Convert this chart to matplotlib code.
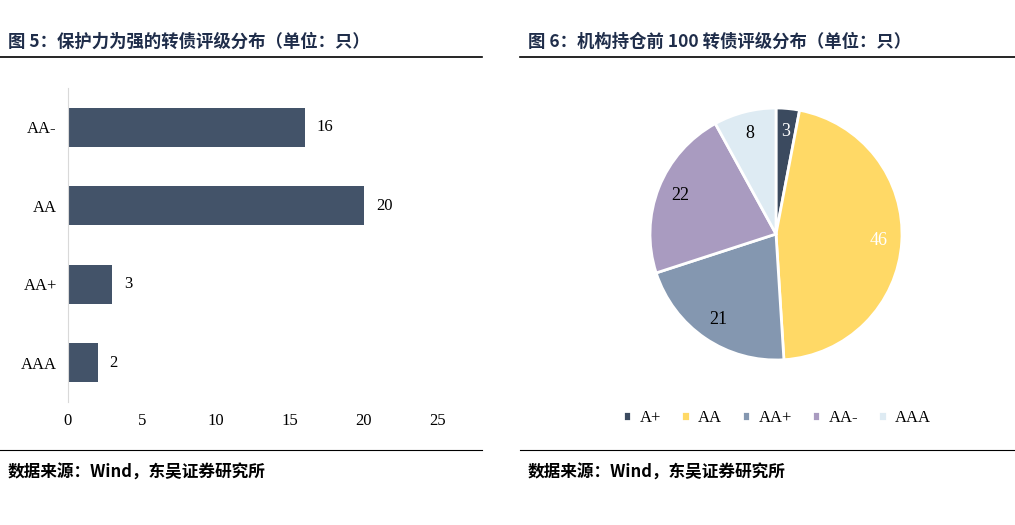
import matplotlib.pyplot as plt

bar_cats = ["AAA", "AA+", "AA", "AA-"]
bar_vals = [2, 3, 20, 16]
x_ticks = [0, 5, 10, 15, 20, 25]
pie_cats = ["A+", "AA", "AA+", "AA-", "AAA"]
pie_vals = [3, 46, 21, 22, 8]
pie_colors = ["#3b4a5f", "#ffd966", "#8497b0", "#a99bc0", "#deebf3"]
pie_txt = ["white", "white", "black", "black", "black"]
title_l = "图 5：保护力为强的转债评级分布（单位：只）"
title_r = "图 6：机构持仓前 100 转债评级分布（单位：只）"
src = "数据来源：Wind，东吴证券研究所"

W, H = 1015, 525
fig = plt.figure(figsize=(W/100, H/100), dpi=100)
cjk = "Noto Sans CJK SC"
serif = "Liberation Serif"

def fx(px): return px / W
def fy(py): return 1 - py / H

# titles / rules
for x0, x1, t in [(0, 482, title_l), (520, 1015, title_r)]:
    fig.text(fx(x0 + 8 if x0 else 8), fy(42), t, fontfamily=cjk, fontweight="bold",
             fontsize=12.5, color="#1f2d4a", va="center")
    fig.add_artist(plt.Line2D([fx(x0), fx(x1)], [fy(57), fy(57)], color="black", lw=1.2))
    fig.add_artist(plt.Line2D([fx(x0), fx(x1)], [fy(450), fy(450)], color="black", lw=0.8))
    fig.text(fx(x0 + 8 if x0 else 8), fy(473), src, fontfamily=cjk, fontweight="bold",
             fontsize=12, va="center")

# bar chart
ax = fig.add_axes([fx(68), fy(402), fx(438) - fx(68), fy(88) - fy(402)])
y = range(len(bar_cats))
ax.barh(y, bar_vals, height=0.5, color="#435369")
for i, v in zip(y, bar_vals):
    ax.text(v + 0.8, i, str(v), va="center", ha="left", fontfamily=serif, fontsize=12)
ax.set_xlim(0, 25)
ax.set_ylim(-0.5, 3.5)
ax.set_xticks(x_ticks)
ax.set_yticks(list(y))
ax.set_yticklabels(bar_cats)
for lab in ax.get_xticklabels() + ax.get_yticklabels():
    lab.set_fontfamily(serif); lab.set_fontsize(12)
for s in ["top", "right", "bottom"]:
    ax.spines[s].set_visible(False)
ax.spines["left"].set_color("#d9d9d9")
ax.tick_params(length=0, pad=8)

# pie
r = 126
cx, cy = 776, 234
axp = fig.add_axes([fx(cx - r), fy(cy + r), fx(2*r), 2*r/H])
wedges, texts = axp.pie(pie_vals, colors=pie_colors, startangle=90, counterclock=False,
                        wedgeprops=dict(edgecolor="white", linewidth=2), radius=1)
import numpy as np
tot = sum(pie_vals); ang = 90
for v, c in zip(pie_vals, pie_txt):
    mid = ang - v / tot * 360 / 2
    ang -= v / tot * 360
    rr = 0.82
    axp.text(rr*np.cos(np.radians(mid)), rr*np.sin(np.radians(mid)), str(v),
             ha="center", va="center", color=c, fontfamily=serif, fontsize=13)
axp.set_aspect("equal")
axp.set_xlim(-1, 1); axp.set_ylim(-1, 1)
leg = fig.legend(wedges, pie_cats, loc="center", bbox_to_anchor=(fx(777), fy(418)), ncol=5,
                 frameon=False, handlelength=0.5, handleheight=0.5, columnspacing=1.2,
                 handletextpad=0.5, prop={"family": serif, "size": 12})
fig.savefig("out.png", dpi=100)
